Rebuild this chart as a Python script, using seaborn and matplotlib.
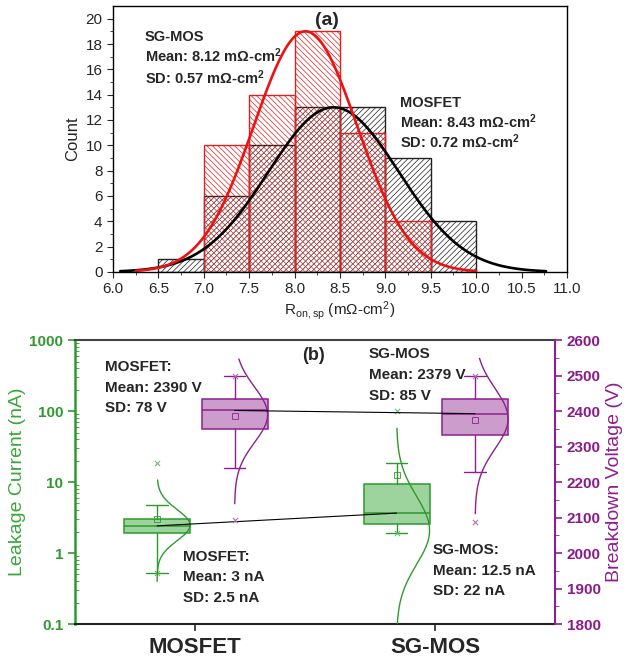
import numpy as np
import pandas as pd
import seaborn as sns
import matplotlib.pyplot as plt

# ---- panel (a) data: Ron,sp histograms ----
mosfet_edges = [6.5, 7.0, 7.5, 8.0, 8.5, 9.0, 9.5, 10.0]
mosfet_counts = [1, 6, 10, 13, 13, 9, 4]
sgmos_edges = [7.0, 7.5, 8.0, 8.5, 9.0, 9.5]
sgmos_counts = [10, 14, 19, 11, 4]

# normal fit curves (mean, sd, peak height, x range)
mosfet_fit = dict(mean=8.43, sd=0.72, peak=13.0, lo=6.08, hi=10.77)
sgmos_fit = dict(mean=8.12, sd=0.57, peak=19.0, lo=6.25, hi=10.0)

# ---- panel (b) data: box statistics ----
devices = ["MOSFET", "SG-MOS"]
leak_q1 = [1.89, 2.59]
leak_med = [2.42, 3.66]
leak_q3 = [3.04, 9.3]
leak_whislo = [0.52, 1.93]
leak_whishi = [4.7, 18.7]
leak_mean = [3.0, 12.6]
leak_min = [0.52, 1.93]
leak_max = [18.7, 100.0]
leak_curve_c = [0.394, 0.32]        # log10 centre of distribution curve
leak_curve_s = [0.22, 0.48]         # log10 spread
leak_curve_lo = [-0.40, -1.0]
leak_curve_hi = [1.03, 1.76]

bv_q1 = [2349, 2333]
bv_med = [2402, 2393]
bv_q3 = [2435, 2433]
bv_whislo = [2241, 2229]
bv_whishi = [2499, 2499]
bv_mean = [2387, 2376]
bv_min = [2094, 2089]
bv_max = [2500, 2500]
bv_curve_mean = [2390, 2379]
bv_curve_sd = [78, 85]
bv_curve_lo = [2139, 2111]
bv_curve_hi = [2547, 2549]

sns.set_style("ticks")
plt.rcParams["font.family"] = ["Liberation Sans", "DejaVu Sans"]
plt.rcParams["mathtext.fontset"] = "custom"
plt.rcParams["mathtext.rm"] = "Liberation Sans"
plt.rcParams["mathtext.bf"] = "Liberation Sans:bold"
plt.rcParams["mathtext.default"] = "regular"
plt.rcParams["hatch.linewidth"] = 0.5

fig = plt.figure(figsize=(6.43, 6.60), dpi=100)
ax1 = fig.add_axes([0.1757, 0.5879, 0.706, 0.403])
ax = fig.add_axes([0.1166, 0.0545, 0.7465, 0.430])

# ================= panel (a) =================
def hist(edges, counts, color, hatch):
    centers = [(edges[i] + edges[i + 1]) / 2 for i in range(len(counts))]
    df = pd.DataFrame({"r": centers, "n": counts})
    n0 = len(ax1.patches)
    sns.histplot(data=df, x="r", weights="n", bins=list(edges), ax=ax1, color=color)
    for p in ax1.patches[n0:]:
        p.set_alpha(1)
        p.set_facecolor("none")
        p.set_edgecolor(color)
        p.set_hatch(hatch)
        p.set_linewidth(1.0)

hist(mosfet_edges, mosfet_counts, "#222222", "//////")
hist(sgmos_edges, sgmos_counts, "#e02020", "\\\\\\\\\\\\")

for fit, color in [(mosfet_fit, "black"), (sgmos_fit, "#ee1111")]:
    xs = np.linspace(fit["lo"], fit["hi"], 300)
    ys = fit["peak"] * np.exp(-0.5 * ((xs - fit["mean"]) / fit["sd"]) ** 2)
    sns.lineplot(x=xs, y=ys, color=color, lw=1.9, ax=ax1)

ax1.set_xlim(6, 11)
ax1.set_ylim(0, 21)
ax1.set_xticks(np.arange(6, 11.01, 0.5))
ax1.set_xticklabels([f"{v:.1f}" for v in np.arange(6, 11.01, 0.5)])
ax1.set_xticks(np.arange(6, 11.01, 0.25), minor=True)
ax1.set_yticks(np.arange(0, 21, 2))
ax1.set_yticks(np.arange(0, 21, 1), minor=True)
ax1.tick_params(which="major", length=4, labelsize=11, direction="out")
ax1.tick_params(which="minor", length=2, direction="out")
ax1.set_xlabel(r"R$_{on,sp}$ (mΩ-cm$^2$)", fontsize=11, labelpad=2)
ax1.set_ylabel("Count", fontsize=12, labelpad=4)
for s in ax1.spines.values():
    s.set_visible(True)
    s.set_color("black")
    s.set_linewidth(1.0)

sup2 = r"$^{\mathbf{2}}$"
ax1.text(0.471, 0.947, "(a)", transform=ax1.transAxes, fontsize=14,
         fontweight="bold", ha="center", va="center")


def text_block(a, x, y0, step, lines, size):
    for k, line in enumerate(lines):
        a.text(x, y0 - k * step, line, transform=a.transAxes, fontsize=size,
               fontweight="bold", va="baseline")


text_block(ax1, 0.07, 0.868, 0.08,
           ["SG-MOS", "Mean: 8.12 mΩ-cm" + sup2, "SD: 0.57 mΩ-cm" + sup2], 10.5)
text_block(ax1, 0.632, 0.620, 0.077,
           ["MOSFET", "Mean: 8.43 mΩ-cm" + sup2, "SD: 0.72 mΩ-cm" + sup2], 10.5)

# ================= panel (b) =================
green_edge = "#2e9a2e"
green_face = "#9dd49d"
green_text = "#339933"
purple_edge = "#8e1f8e"
purple_face = "#cc9ccc"
purple_text = "#8b1a8b"

green_pos = [-0.158, 0.84]
purple_pos = [0.165, 1.167]
box_w = 0.275

ax2 = ax.twinx()


def draw_boxes(a, pos, q1, med, q3, lo, hi, mean, edge, face):
    stats = []
    for i in range(len(pos)):
        stats.append(dict(med=med[i], q1=q1[i], q3=q3[i], whislo=lo[i],
                          whishi=hi[i], mean=mean[i], fliers=[]))
    a.bxp(stats, positions=pos, widths=box_w, patch_artist=True,
          showmeans=True, capwidths=0.09, manage_ticks=False,
          boxprops=dict(facecolor=face, edgecolor=edge, lw=1.1),
          medianprops=dict(color=edge, lw=1.1),
          whiskerprops=dict(color=edge, lw=1.0),
          capprops=dict(color=edge, lw=1.0),
          meanprops=dict(marker="s", markerfacecolor="none",
                         markeredgecolor=edge, markersize=4, mew=0.6))


draw_boxes(ax, green_pos, leak_q1, leak_med, leak_q3, leak_whislo,
           leak_whishi, leak_mean, green_edge, green_face)
draw_boxes(ax2, purple_pos, bv_q1, bv_med, bv_q3, bv_whislo,
           bv_whishi, bv_mean, purple_edge, purple_face)

ax.scatter(green_pos, leak_min, marker="x", s=14, color="#6cbf6c", lw=0.8, zorder=4)
ax.scatter(green_pos, leak_max, marker="x", s=14, color="#6cbf6c", lw=0.8, zorder=4)
ax2.scatter(purple_pos, bv_min, marker="x", s=14, color="#b070b0", lw=0.8, zorder=4)
ax2.scatter(purple_pos, bv_max, marker="x", s=14, color="#b070b0", lw=0.8, zorder=4)

# distribution curves
for i in range(2):
    lg = np.linspace(leak_curve_lo[i], leak_curve_hi[i], 300)
    xs = green_pos[i] + box_w / 2 * np.exp(-0.5 * ((lg - leak_curve_c[i]) / leak_curve_s[i]) ** 2)
    ax.plot(xs, 10 ** lg, color=green_edge, lw=1.0, zorder=5)
    v = np.linspace(bv_curve_lo[i], bv_curve_hi[i], 300)
    xs = purple_pos[i] + box_w / 2 * np.exp(-0.5 * ((v - bv_curve_mean[i]) / bv_curve_sd[i]) ** 2)
    ax2.plot(xs, v, color=purple_edge, lw=1.0, zorder=5)

# median connecting lines
ax.plot(green_pos, leak_med, color="black", lw=0.8, zorder=6)
ax2.plot(purple_pos, bv_med, color="black", lw=0.8, zorder=6)

ax.set_yscale("log")
ax.set_ylim(0.1, 1000)
ax.set_xlim(-0.5, 1.5)
ax.set_yticks([0.1, 1, 10, 100, 1000], labels=["0.1", "1", "10", "100", "1000"])
ax.yaxis.set_minor_formatter(plt.NullFormatter())
ax.set_xticks([0, 1], labels=devices)
for lab in ax.get_xticklabels():
    lab.set_fontsize(16)
    lab.set_fontweight("bold")
ax.tick_params(axis="y", which="major", colors=green_edge, labelcolor=green_text,
               labelsize=11, length=5, width=1.2, direction="out")
ax.tick_params(axis="y", which="minor", colors=green_edge, length=3, direction="in")
ax.tick_params(axis="x", length=5, width=1.2, direction="out", pad=4)
for lab in ax.get_yticklabels():
    lab.set_fontweight("bold")
ax.set_ylabel("Leakage Current (nA)", color="#3aa63a", fontsize=14, labelpad=2)

ax2.set_ylim(1800, 2600)
ax2.set_yticks(np.arange(1800, 2601, 100))
ax2.set_yticks(np.arange(1800, 2601, 50), minor=True)
ax2.tick_params(axis="y", which="major", colors=purple_edge, labelcolor=purple_text,
                labelsize=11, length=5, width=1.2, direction="out")
ax2.tick_params(axis="y", which="minor", colors=purple_edge, length=3, direction="out")
for lab in ax2.get_yticklabels():
    lab.set_fontweight("bold")
ax2.set_ylabel("Breakdown Voltage (V)", color=purple_edge, fontsize=14, labelpad=4)

for s in ["top", "bottom", "left", "right"]:
    ax.spines[s].set_visible(True)
    ax2.spines[s].set_visible(True)
ax.spines["left"].set_color(green_edge)
ax.spines["left"].set_linewidth(1.8)
ax.spines["top"].set_color("#444444")
ax.spines["top"].set_linewidth(1.5)
ax.spines["bottom"].set_color("#222222")
ax.spines["bottom"].set_linewidth(1.5)
ax.spines["right"].set_visible(False)
ax2.spines["left"].set_visible(False)
ax2.spines["top"].set_visible(False)
ax2.spines["bottom"].set_visible(False)
ax2.spines["right"].set_color(purple_edge)
ax2.spines["right"].set_linewidth(1.5)

txt = dict(fontsize=11, fontweight="bold", va="top", linespacing=1.6)
ax.text(0.496, 0.947, "(b)", transform=ax.transAxes, fontsize=13,
        fontweight="bold", ha="center", va="center")
ax.text(0.0625, 0.93, "MOSFET:\nMean: 2390 V\nSD: 78 V", transform=ax.transAxes, **txt)
ax.text(0.6125, 0.975, "SG-MOS\nMean: 2379 V\nSD: 85 V", transform=ax.transAxes, **txt)
ax.text(0.225, 0.262, "MOSFET:\nMean: 3 nA\nSD: 2.5 nA", transform=ax.transAxes, **txt)
ax.text(0.746, 0.285, "SG-MOS:\nMean: 12.5 nA\nSD: 22 nA", transform=ax.transAxes, **txt)

fig.savefig("out.png", dpi=100)
